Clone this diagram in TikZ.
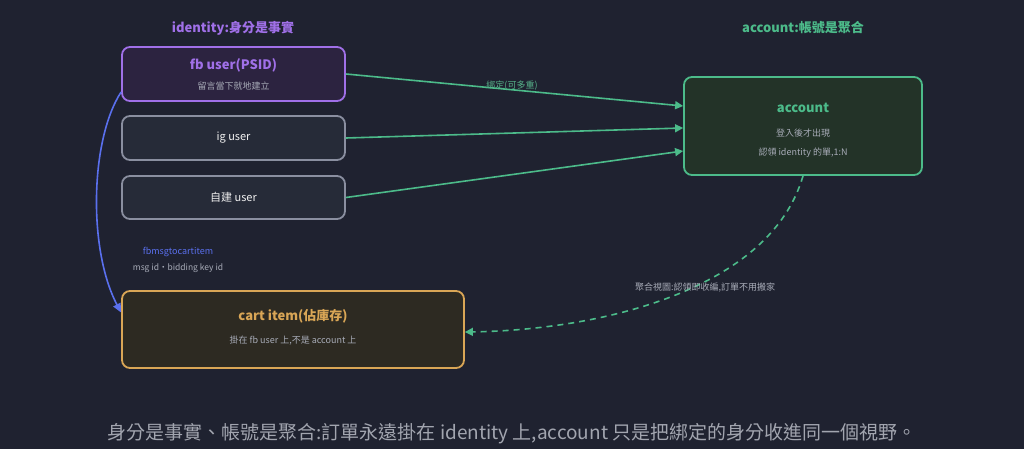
\documentclass[tikz,border=0pt]{standalone}
\usepackage{fontspec}
\setmainfont{Noto Sans CJK TC}
\usetikzlibrary{arrows.meta}
\definecolor{bg}{HTML}{1F2230}
\definecolor{purp}{HTML}{A070E8}
\definecolor{grn}{HTML}{4CBB8A}
\definecolor{gold}{HTML}{D9A656}
\definecolor{blu}{HTML}{5A70EE}
\definecolor{txt}{HTML}{A8ACB8}
\definecolor{edge}{HTML}{8A8FA0}
\definecolor{fbfill}{HTML}{2C2340}
\definecolor{idfill}{HTML}{262B38}
\definecolor{accfill}{HTML}{233328}
\definecolor{cartfill}{HTML}{2D2A22}
\begin{document}
\begin{tikzpicture}[x=1pt,y=-1pt,
  box/.style={draw,rounded corners=8pt,line width=1.8pt,inner sep=0pt},
  head/.style={font=\fontsize{13}{15}\selectfont\bfseries},
  sub/.style={text=txt,font=\fontsize{9}{11}\selectfont},
  link/.style={grn,line width=1.6pt,-{Triangle[length=8pt,width=8pt]}}]
\fill[bg] (0,0) rectangle (1024,449);
\node[head,purp] (tid) at (233,28) {identity:身分是事實};
\node[head,grn] (tac) at (803,28) {account:帳號是聚合};
% identity boxes
\node[box,purp,fill=fbfill,minimum width=223pt,minimum height=54pt] (fb) at (233.5,74) {};
\node[head,purp] at (233.5,65) {fb user(PSID)};
\node[sub] at (233.5,86) {留言當下就地建立};
\node[box,edge,fill=idfill,minimum width=223pt,minimum height=44pt,text=white!88!gray,font=\fontsize{11}{13}\selectfont] (ig) at (233.5,138) {ig user};
\node[box,edge,fill=idfill,minimum width=223pt,minimum height=43pt,text=white!88!gray,font=\fontsize{11}{13}\selectfont] (own) at (233.5,197.5) {自建 user};
% account
\node[box,grn,fill=accfill,minimum width=238pt,minimum height=98pt] (acc) at (803,126) {};
\node[head,grn] at (803,108) {account};
\node[sub] at (803,133) {登入後才出現};
\node[sub] at (803,153) {認領 identity 的單,1:N};
% cart item
\node[box,gold,fill=cartfill,minimum width=342pt,minimum height=77pt] (cart) at (293,329.5) {};
\node[head,gold] at (293,316) {cart item(佔庫存)};
\node[sub] at (293,341) {掛在 fb user 上,不是 account 上};
% connectors
\draw[link] (fb.east) -- ([yshift=20pt]acc.west);
\draw[link] (ig.east) -- ([yshift=-2pt]acc.west);
\draw[link] (own.east) -- ([yshift=-25pt]acc.west);
\node[text=grn!80!gray,font=\fontsize{9}{11}\selectfont] at (512,86) {綁定(可多重)};
\draw[link,dash pattern=on 6pt off 5pt] (acc.south) .. controls (770,290) and (600,330) .. ([yshift=-2.5pt]cart.east);
\node[sub] at (705,288) {聚合視圖:認領即收編,訂單不用搬家};
\draw[blu,line width=1.6pt,-{Triangle[length=9pt,width=8pt]}] ([yshift=-18pt]fb.west) .. controls (90,140) and (88,250) .. ([yshift=17pt]cart.west);
\node[text=blu,font=\fontsize{9}{11}\selectfont] at (178,252) {fbmsgtocartitem};
\node[sub,font=\fontsize{8.5}{10}\selectfont] at (178,268) {msg id・bidding key id};
\node[text=txt!85!gray,font=\fontsize{19}{22}\selectfont] at (512,434) {身分是事實、帳號是聚合:訂單永遠掛在 identity 上,account 只是把綁定的身分收進同一個視野。};
\end{tikzpicture}
\end{document}
